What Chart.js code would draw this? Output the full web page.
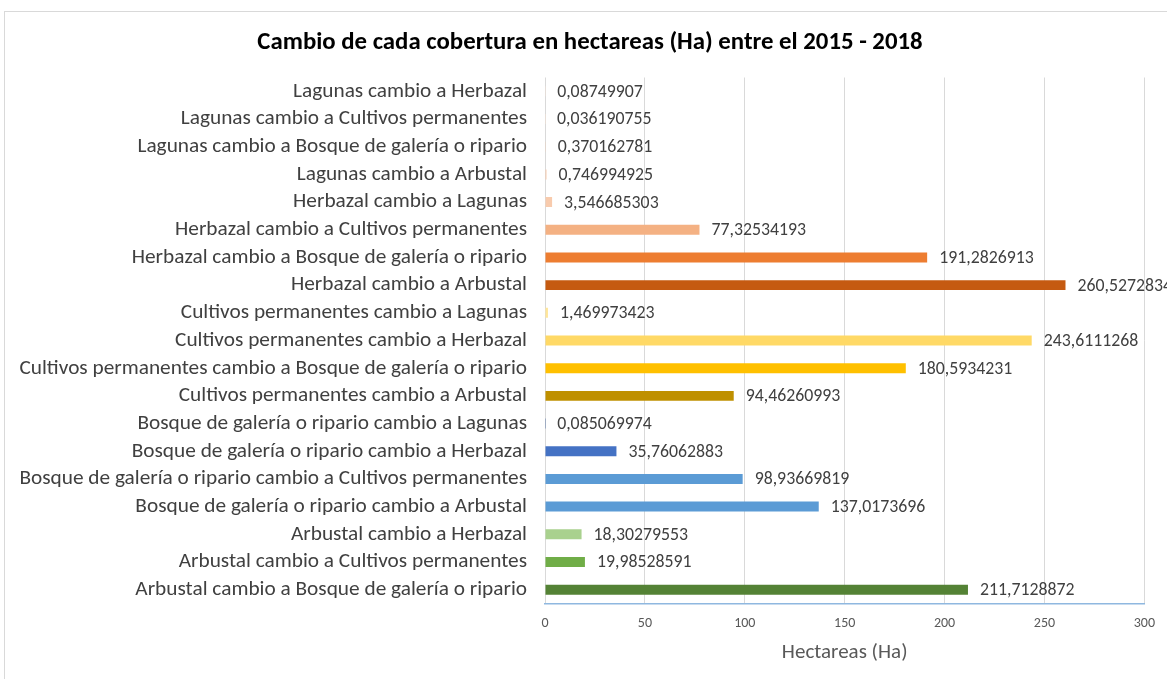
<!DOCTYPE html>
<html>
<head>
<meta charset="utf-8">
<script src="https://cdn.jsdelivr.net/npm/chart.js@4.4.1/dist/chart.umd.min.js"></script>
<style>
    body { margin: 0; background: #fff; overflow: hidden; }
    #frame { position: absolute; left: 4px; top: 11px; width: 1200px; height: 700px; border: 1px solid #d9d9d9; }
    #barChart { position: absolute; left: 0; top: 0; }
</style>
</head>
<body>
<div id="frame"></div>
<canvas id="barChart" width="1167" height="679"></canvas>
<script>
// categories, top to bottom as in the picture
const categories = [
    'Lagunas cambio a Herbazal',
    'Lagunas cambio a Cultivos permanentes',
    'Lagunas cambio a Bosque de galería o ripario',
    'Lagunas cambio a Arbustal',
    'Herbazal cambio a Lagunas',
    'Herbazal cambio a Cultivos permanentes',
    'Herbazal cambio a Bosque de galería o ripario',
    'Herbazal cambio a Arbustal',
    'Cultivos permanentes cambio a Lagunas',
    'Cultivos permanentes cambio a Herbazal',
    'Cultivos permanentes cambio a Bosque de galería o ripario',
    'Cultivos permanentes cambio a Arbustal',
    'Bosque de galería o ripario cambio a Lagunas',
    'Bosque de galería o ripario cambio a Herbazal',
    'Bosque de galería o ripario cambio a Cultivos permanentes',
    'Bosque de galería o ripario cambio a Arbustal',
    'Arbustal cambio a Herbazal',
    'Arbustal cambio a Cultivos permanentes',
    'Arbustal cambio a Bosque de galería o ripario'
];

const hectareas = [
    0.08749907, 0.036190755, 0.370162781, 0.746994925, 3.546685303,
    77.32534193, 191.2826913, 260.5272834, 1.469973423, 243.6111268,
    180.5934231, 94.46260993, 0.085069974, 35.76062883, 98.93669819,
    137.0173696, 18.30279553, 19.98528591, 211.7128872
];

const barColors = [
    '#FBE5D6', '#FBE5D6', '#F8CBAD', '#F8CBAD', '#F8CBAD',
    '#F4B183', '#ED7D31', '#C55A11', '#FFE699', '#FFD966',
    '#FFC000', '#BF9000', '#2F5597', '#4472C4', '#5B9BD5',
    '#5B9BD5', '#A9D18E', '#70AD47', '#548235'
];

const xTicks = [0, 50, 100, 150, 200, 250, 300];

const chartTitle = 'Cambio de cada cobertura en hectareas (Ha) entre el 2015 - 2018';

Chart.defaults.font.family = 'Carlito, Lato, "Open Sans", sans-serif';

// title is centred on the whole (cropped) chart frame, not the canvas, so draw it here
const titleText = {
    id: 'titleText',
    afterDraw(chart) {
        const ctx = chart.ctx;
        ctx.save();
        ctx.font = 'bold 24.8px ' + Chart.defaults.font.family;
        ctx.fillStyle = '#000';
        ctx.textAlign = 'center';
        ctx.textBaseline = 'middle';
        ctx.fillText(chartTitle, 590, 43);
        ctx.restore();
    }
};

// value labels next to each bar, decimal comma like the original
const valueLabels = {
    id: 'valueLabels',
    afterDatasetsDraw(chart) {
        const ctx = chart.ctx;
        const meta = chart.getDatasetMeta(0);
        ctx.save();
        ctx.font = '17.8px ' + Chart.defaults.font.family;
        ctx.fillStyle = '#404040';
        ctx.textAlign = 'left';
        ctx.textBaseline = 'middle';
        meta.data.forEach((bar, i) => {
            const txt = String(hectareas[i]).replace('.', ',');
            ctx.fillText(txt, bar.x + 12, bar.y + 1);
        });
        ctx.restore();
    }
};

const ctx = document.getElementById('barChart').getContext('2d');
new Chart(ctx, {
    type: 'bar',
    data: {
        labels: categories,
        datasets: [{
            data: hectareas,
            backgroundColor: barColors,
            categoryPercentage: 1,
            barPercentage: 0.36
        }]
    },
    options: {
        indexAxis: 'y',
        responsive: false,
        animation: false,
        layout: { padding: { left: 0, right: 22, top: 77.5, bottom: 0 } },
        plugins: {
            legend: { display: false },
            tooltip: { enabled: false },
            title: { display: false }
        },
        scales: {
            x: {
                min: 0,
                max: 300,
                afterBuildTicks: (s) => { s.ticks = xTicks.map(v => ({ value: v })); },
                afterFit: (s) => { s.height = 75.5; },
                ticks: { color: '#595959', font: { size: 14 }, padding: 12 },
                grid: { color: '#d9d9d9', drawTicks: false },
                border: { color: '#8fb8e0', width: 1.5 },
                title: {
                    display: true,
                    text: 'Hectareas (Ha)',
                    color: '#595959',
                    font: { size: 21 },
                    padding: { top: 0, bottom: 14 }
                }
            },
            y: {
                afterFit: (s) => { s.width = 545; },
                ticks: { color: '#404040', font: { size: 21.3 }, padding: 18, autoSkip: false },
                grid: { display: false, drawTicks: false },
                border: { display: false }
            }
        }
    },
    plugins: [valueLabels, titleText]
});
</script>
</body>
</html>
